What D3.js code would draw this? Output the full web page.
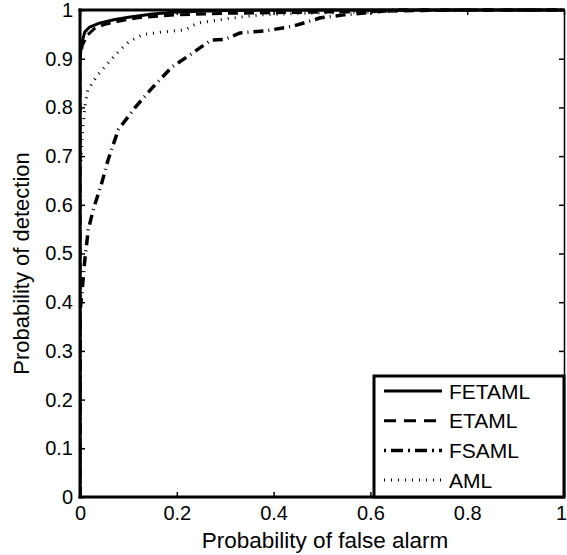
<!DOCTYPE html>
<html>
<head>
<meta charset="utf-8">
<script src="https://cdn.jsdelivr.net/npm/d3@7"></script>
<style>
  html, body { margin: 0; padding: 0; background: #fff; }
  svg { display: block; font-family: "Liberation Sans", Arial, Helvetica, sans-serif; }
</style>
</head>
<body>
<svg id="chart" width="567" height="555"></svg>
<script>
// ---- data ----
const seriesNames = ["FETAML", "ETAML", "FSAML", "AML"];
const xTicks = [0, 0.2, 0.4, 0.6, 0.8, 1];
const yTicks = [0, 0.1, 0.2, 0.3, 0.4, 0.5, 0.6, 0.7, 0.8, 0.9, 1];
const xTickLabels = ["0", "0.2", "0.4", "0.6", "0.8", "1"];
const yTickLabels = ["0", "0.1", "0.2", "0.3", "0.4", "0.5", "0.6", "0.7", "0.8", "0.9", "1"];

const fetamlPfa = [0, 0, 0.003, 0.01, 0.02, 0.04, 0.07, 0.1, 0.15, 0.2, 0.3, 0.5, 1];
const fetamlPd  = [0, 0.9, 0.93, 0.955, 0.965, 0.973, 0.98, 0.985, 0.992, 0.996, 0.999, 1, 1];

const etamlPfa = [0, 0, 0.005, 0.015, 0.03, 0.05, 0.08, 0.12, 0.2, 0.3, 0.45, 0.6, 0.8, 1];
const etamlPd  = [0, 0.9, 0.928, 0.948, 0.962, 0.97, 0.977, 0.984, 0.99, 0.993, 0.995, 0.997, 1, 1];

const fsamlPfa = [0, 0, 0.004, 0.01, 0.017, 0.027, 0.045, 0.058, 0.079, 0.114, 0.151, 0.19, 0.232, 0.27, 0.3, 0.331, 0.383, 0.441, 0.497, 0.545, 0.65, 1];
const fsamlPd  = [0, 0.38, 0.42, 0.487, 0.548, 0.589, 0.645, 0.692, 0.754, 0.8, 0.842, 0.883, 0.911, 0.938, 0.94, 0.953, 0.957, 0.967, 0.984, 0.99, 1, 1];

const amlPfa = [0, 0, 0.005, 0.01, 0.016, 0.037, 0.058, 0.079, 0.1, 0.128, 0.17, 0.217, 0.242, 0.31, 0.373, 0.45, 0.6, 0.7, 1];
const amlPd  = [0, 0.65, 0.75, 0.8, 0.836, 0.867, 0.891, 0.914, 0.934, 0.949, 0.955, 0.959, 0.973, 0.983, 0.99, 0.993, 0.996, 1, 1];

const seriesPfa = [fetamlPfa, etamlPfa, fsamlPfa, amlPfa];
const seriesPd  = [fetamlPd, etamlPd, fsamlPd, amlPd];

// ---- styles ----
const dashes = [null, "10,6", "10,5,1,5", "1,6"];
const widths = [3, 3, 3.5, 3];

const svg = d3.select("#chart");
const pL = 80, pR = 564, pT = 10, pB = 497;

const x = d3.scaleLinear().domain([0, 1]).range([pL, pR]);
const y = d3.scaleLinear().domain([0, 1]).range([pB, pT]);

// clip
svg.append("defs").append("clipPath").attr("id", "clip")
  .append("rect").attr("x", pL).attr("y", pT - 2).attr("width", pR - pL).attr("height", pB - pT + 2);

// curves
const line = d3.line().x(d => x(d[0])).y(d => y(d[1]));
const curves = svg.append("g").attr("clip-path", "url(#clip)");
seriesNames.forEach((name, i) => {
  const pts = seriesPfa[i].map((v, j) => [v, seriesPd[i][j]]);
  curves.append("path")
    .datum(pts)
    .attr("d", line)
    .attr("fill", "none")
    .attr("stroke", "#000")
    .attr("stroke-width", widths[i])
    .attr("stroke-linejoin", "round")
    .attr("stroke-dasharray", dashes[i]);
});

// axes with inward ticks
const fmtX = (d, i) => xTickLabels[i];
const fmtY = (d, i) => yTickLabels[i];
const gx = svg.append("g").attr("transform", `translate(0,${pB})`)
  .call(d3.axisBottom(x).tickValues(xTicks).tickFormat(fmtX).tickSizeInner(-5).tickSizeOuter(0).tickPadding(9));
const gxTop = svg.append("g").attr("transform", `translate(0,${pT})`)
  .call(d3.axisTop(x).tickValues(xTicks).tickFormat("").tickSizeInner(-5).tickSizeOuter(0));
const gy = svg.append("g").attr("transform", `translate(${pL},0)`)
  .call(d3.axisLeft(y).tickValues(yTicks).tickFormat(fmtY).tickSizeInner(-5).tickSizeOuter(0).tickPadding(7));
const gyRight = svg.append("g").attr("transform", `translate(${pR},0)`)
  .call(d3.axisRight(y).tickValues(yTicks).tickFormat("").tickSizeInner(-5).tickSizeOuter(0));

[gx, gxTop, gy, gyRight].forEach(g => {
  g.select(".domain").remove();
  g.selectAll(".tick line").attr("stroke", "#000").attr("stroke-width", 1.5);
  g.selectAll("text").attr("fill", "#000").style("font-size", "20px")
    .style("font-family", "'Liberation Sans', Arial, sans-serif");
});
gx.selectAll("text").attr("dy", "0.71em");
// keep the last x label inside the canvas
gx.selectAll(".tick text").filter((d, i) => i === xTicks.length - 1).attr("x", -3);

// frame
svg.append("line").attr("x1", pL).attr("x2", pL).attr("y1", pT - 1.5).attr("y2", pB + 1.5)
  .attr("stroke", "#000").attr("stroke-width", 3);
svg.append("line").attr("x1", pL - 1.5).attr("x2", pR + 1).attr("y1", pB).attr("y2", pB)
  .attr("stroke", "#000").attr("stroke-width", 3);
svg.append("line").attr("x1", pL - 1.5).attr("x2", pR + 1).attr("y1", pT).attr("y2", pT)
  .attr("stroke", "#000").attr("stroke-width", 3);
svg.append("line").attr("x1", pR + 0.5).attr("x2", pR + 0.5).attr("y1", pT).attr("y2", pB)
  .attr("stroke", "#000").attr("stroke-width", 1.5);

// axis labels
svg.append("text").attr("x", (pL + pR) / 2 + 3).attr("y", 548)
  .attr("text-anchor", "middle").style("font-size", "22.5px").text("Probability of false alarm");
svg.append("text").attr("transform", `translate(29,${(pT + pB) / 2 + 10}) rotate(-90)`)
  .attr("text-anchor", "middle").style("font-size", "22px").text("Probability of detection");

// legend
const lg = svg.append("g");
lg.append("rect").attr("x", 374).attr("y", 376).attr("width", 190).attr("height", 121)
  .attr("fill", "#fff").attr("stroke", "#000").attr("stroke-width", 3);
seriesNames.forEach((name, i) => {
  const ly = 391 + i * 29.7;
  lg.append("line").attr("x1", 384).attr("x2", 442).attr("y1", ly).attr("y2", ly)
    .attr("stroke", "#000").attr("stroke-width", widths[i])
    .attr("stroke-dasharray", i === 1 ? "12,8" : i === 2 ? "2,5,12,5" : dashes[i]);
  lg.append("text").attr("x", 449).attr("y", ly).attr("dy", "0.36em")
    .style("font-size", "21px").text(name);
});
</script>
</body>
</html>
